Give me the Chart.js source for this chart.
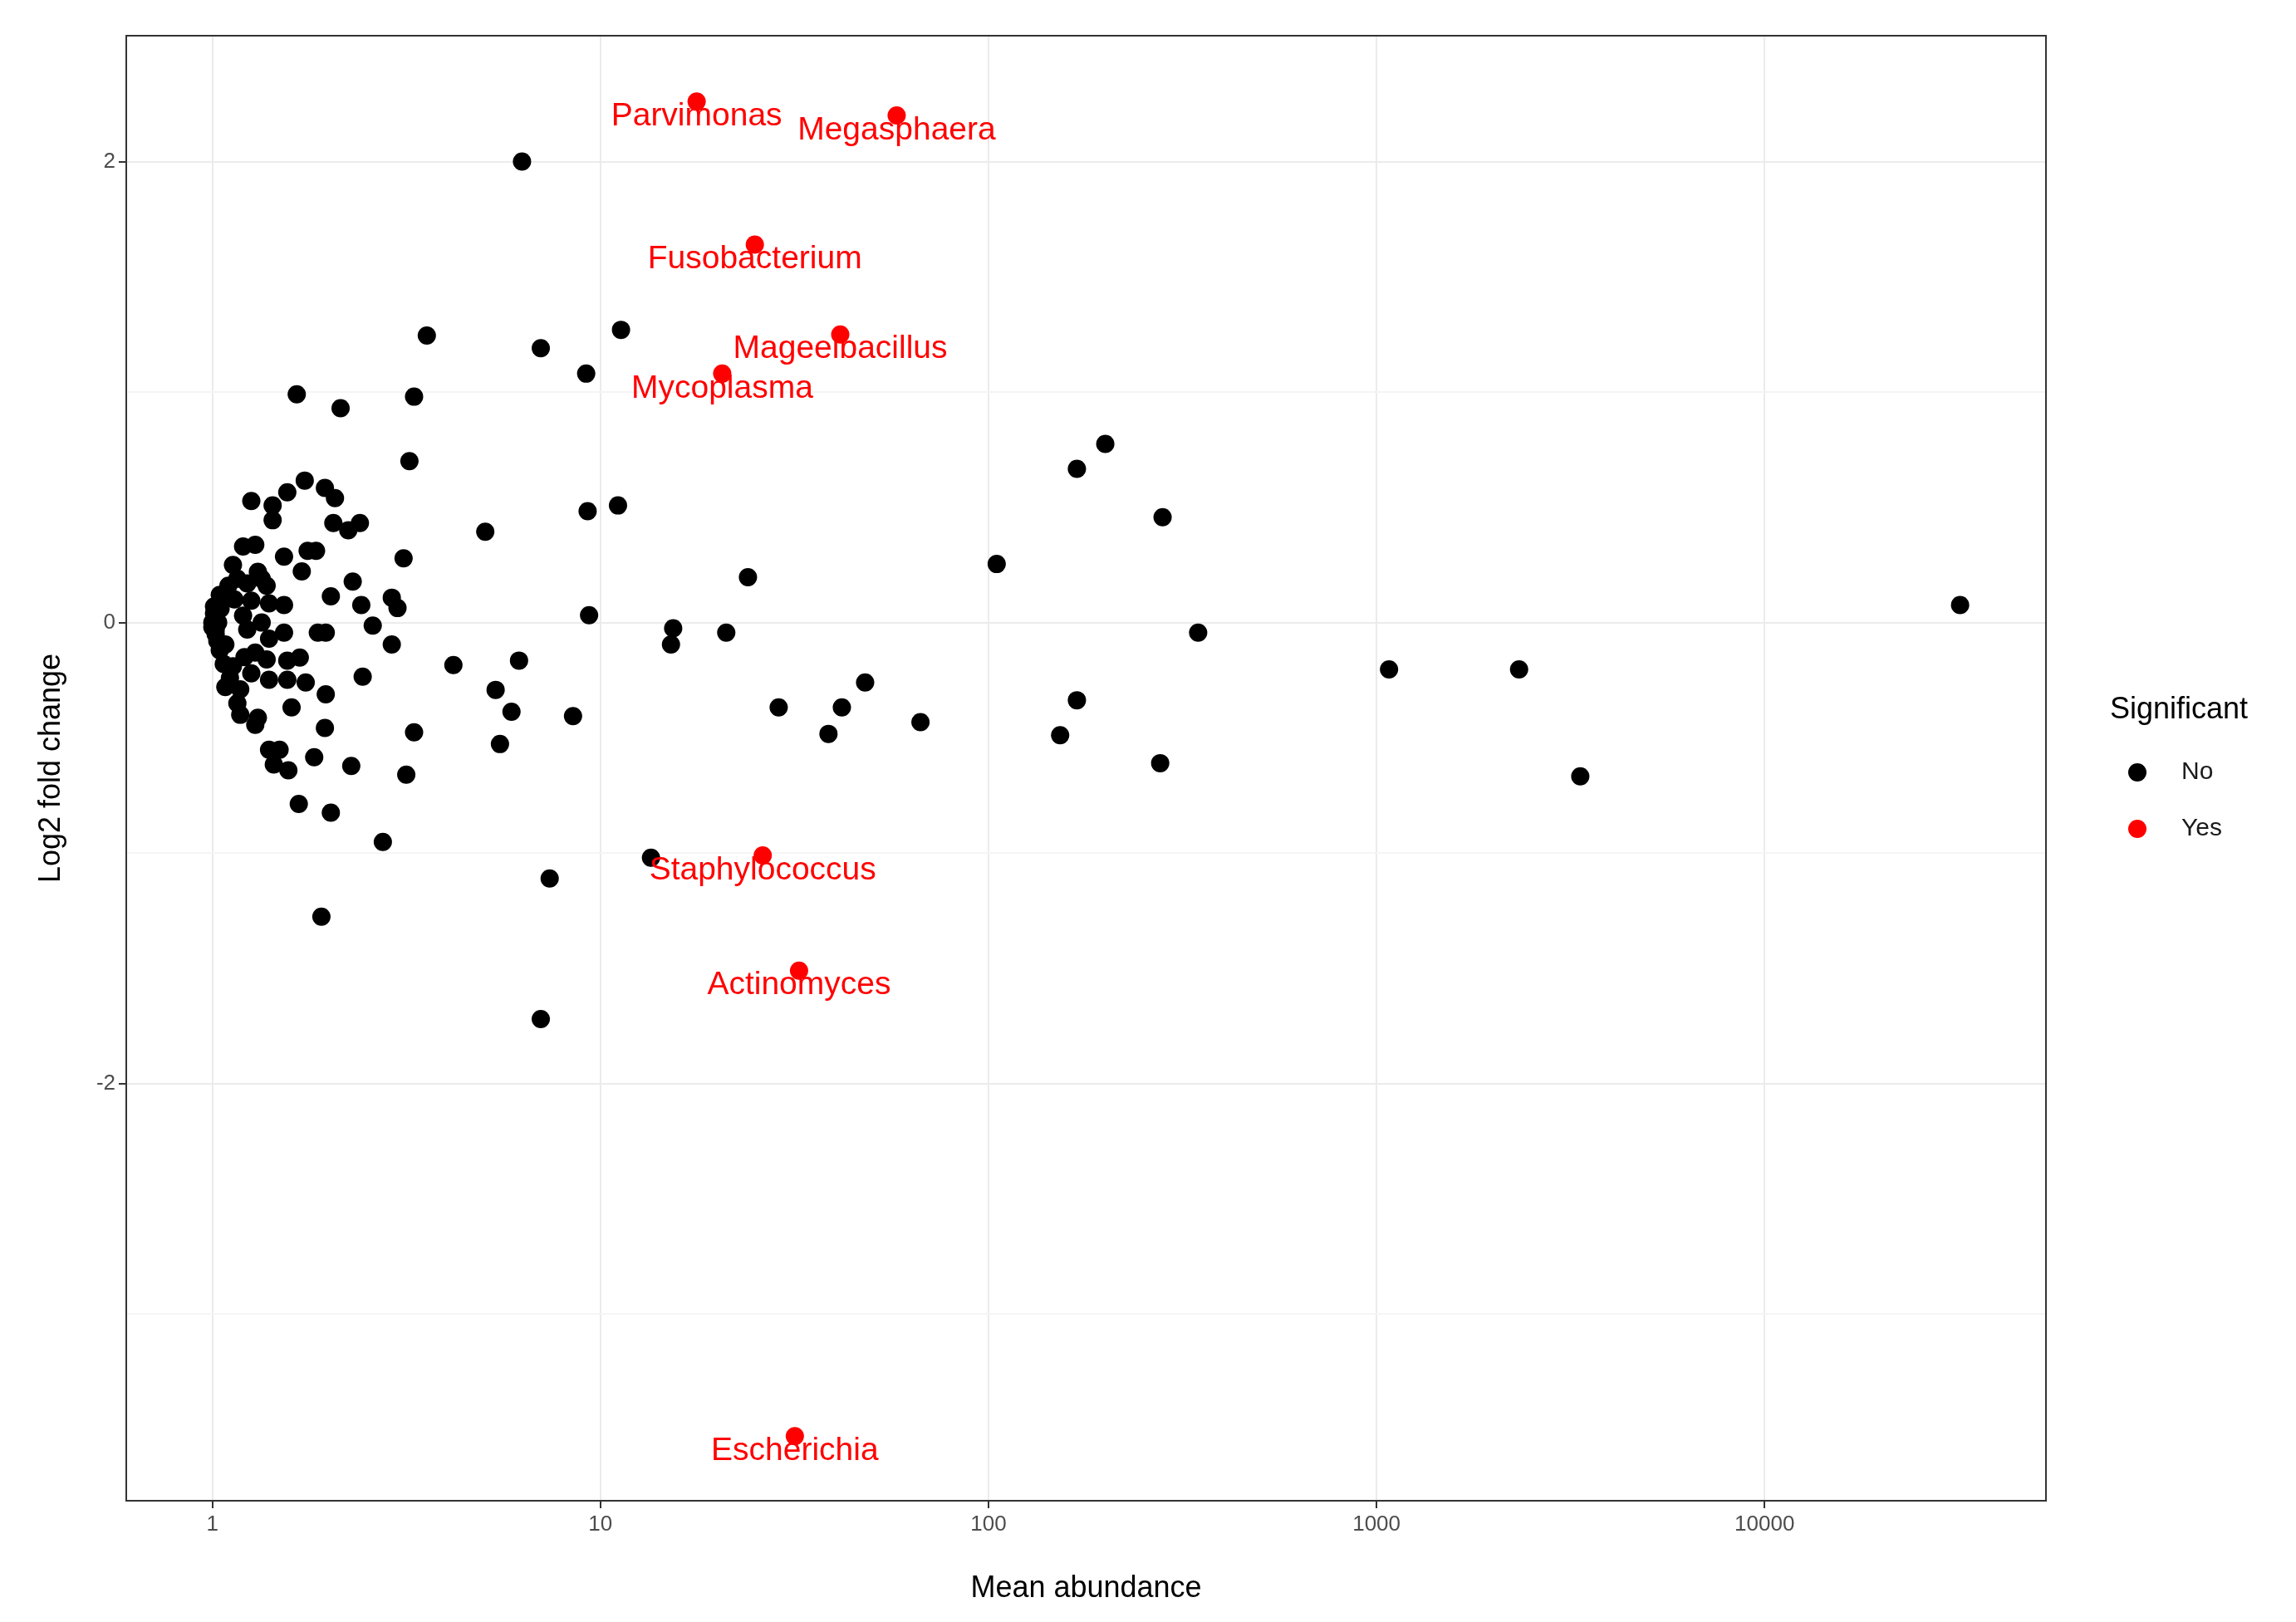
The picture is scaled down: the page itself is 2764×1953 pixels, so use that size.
<!DOCTYPE html>
<html><head><meta charset="utf-8">
<script src="https://cdn.jsdelivr.net/npm/chart.js@4"></script>
<style>html,body{margin:0;padding:0;background:#fff}</style>
</head><body>
<canvas id="c" width="2764" height="1953" style="width:2764px;height:1953px"></canvas>
<script>
const sigNames = ["Parvimonas","Megasphaera","Fusobacterium","Mageeibacillus","Mycoplasma","Staphylococcus","Actinomyces","Escherichia"];
const sigAbundance = [17.7,58,25,41.5,20.6,26.2,32.5,31.7];
const sigLfc = [2.26,2.20,1.64,1.25,1.08,-1.01,-1.51,-3.53];
const nsAbundance = [6.28,3.57,7.02,11.3,9.19,1.65,2.14,3.31,3.22,200,169,281,105,31900,347,1077,2330,3350,277,169,153,66.8,48.1,41.9,38.7,28.8,24,21.1,15.4,15.2,11.1,9.27,9.35,13.5,7.4,7.02,8.5,5.9,5.51,5.37,6.17,4.18,5.05,3.31,3.16,2.75,1.91,2.02,1.67,2.28,1.83,2.44,2.9,3.0,3.11,2.9,2.59,2.42,2.3,2.24,2.4,2.05,2.07,1.95,1.73,1.56,1.43,1.43,1.26,2.02,1.96,1.87,1.96,1.95,1.74,1.6,1.56,1.68,1.56,1.53,1.53,1.7,1.76,1.85,1.53,1.34,1.4,1.4,1.4,1.57,1.44,1.49,1.4,1.29,1.31,1.18,1.29,1.2,1.0,1.01,1.02,1.035,1.06,1.08,1.1,1.13,1.16,1.18,1.2,1.23,1.26,1.29,1.31,1.34,1.21,1.13,1.08,1.045,1.045,1.02,1.16,1.23,1.26,1.38,1.38,1.0,1.01,1.03,1.05,1.07,1.11,1.14];
const nsLfc = [2.0,1.245,1.19,1.27,1.08,0.99,0.93,0.98,0.70,0.775,0.667,0.457,0.254,0.076,-0.044,-0.203,-0.203,-0.667,-0.61,-0.337,-0.489,-0.432,-0.26,-0.368,-0.483,-0.368,0.197,-0.044,-0.025,-0.095,0.508,0.483,0.032,-1.02,-1.11,-1.72,-0.406,-0.387,-0.527,-0.292,-0.165,-0.184,0.394,-0.476,-0.66,-0.952,-1.276,-0.825,-0.787,-0.622,-0.584,-0.235,-0.095,0.063,0.279,0.108,-0.013,0.076,0.178,0.4,0.432,0.432,0.54,0.584,0.616,0.565,0.508,0.444,0.527,0.114,-0.044,-0.044,-0.311,-0.457,-0.26,-0.368,-0.248,-0.152,-0.165,-0.044,0.076,0.222,0.311,0.311,0.286,0.19,0.083,-0.07,-0.248,-0.641,-0.616,-0.552,-0.552,-0.444,-0.413,-0.4,0.337,0.33,0,0.04,-0.05,0.0,0.095,-0.095,0.16,-0.19,0.19,-0.29,0.03,-0.03,0.095,-0.13,0.22,0,-0.15,0.25,-0.28,-0.12,0.12,-0.03,-0.35,0.17,-0.22,0.16,-0.16,-0.02,0.07,-0.08,0.06,-0.18,-0.24,0.1];
const xTicks = [1,10,100,1000,10000];
const yTicksLabelled = [-2,0,2];
const legendTitle = "Significant";
const legendLabels = ["No","Yes"];

const ns = nsAbundance.map((x,i)=>({x, y:nsLfc[i]}));
const sg = sigAbundance.map((x,i)=>({x, y:sigLfc[i], name:sigNames[i]}));
const FONT='"Liberation Sans", Arial, sans-serif';

const extras = {
  id:'extras',
  afterDatasetsDraw(ch){
    const c=ch.ctx, xs=ch.scales.x, ys=ch.scales.y;
    c.save();
    c.fillStyle='#ff0000'; c.font='39px '+FONT;
    c.textAlign='center'; c.textBaseline='middle';
    sg.forEach(p=>{ c.fillText(p.name, xs.getPixelForValue(p.x), ys.getPixelForValue(p.y)+18); });
    c.strokeStyle='#333'; c.lineWidth=2;
    const a=ch.chartArea; c.strokeRect(a.left,a.top,a.right-a.left,a.bottom-a.top);
    c.fillStyle='#000'; c.textAlign='left'; c.font='36px '+FONT;
    c.fillText(legendTitle, 2540, 855);
    const cols=['#000','#ff0000'];
    legendLabels.forEach((t,i)=>{
      const y=930+i*68;
      c.fillStyle=cols[i]; c.beginPath(); c.arc(2573,y,11,0,Math.PI*2); c.fill();
      c.fillStyle='#1a1a1a'; c.font='30px '+FONT;
      c.fillText(t, 2626, y);
    });
    c.restore();
  }
};

new Chart(document.getElementById('c'),{
  type:'scatter',
  data:{datasets:[
    {data:ns, backgroundColor:'#000', borderColor:'#000', pointRadius:11, pointHoverRadius:11, borderWidth:0},
    {data:sg, backgroundColor:'#ff0000', borderColor:'#ff0000', pointRadius:11, pointHoverRadius:11, borderWidth:0}
  ]},
  options:{
    responsive:false, animation:false, devicePixelRatio:1,
    layout:{padding:{top:43,right:301,bottom:14,left:0}},
    plugins:{legend:{display:false},tooltip:{enabled:false}},
    scales:{
      x:{type:'logarithmic', min:0.62, max:53100,
        afterBuildTicks(ax){ ax.ticks = xTicks.map(v=>({value:v})); },
        afterFit(ax){ ax.height=132; },
        ticks:{callback:v=>String(v), color:'#4d4d4d', font:{size:26,family:FONT}, padding:4, maxRotation:0, autoSkip:false},
        grid:{color:'#ebebeb', lineWidth:2, tickLength:9, tickColor:'#333', drawOnChartArea:true},
        border:{display:false},
        title:{display:true, text:'Mean abundance', color:'#000', font:{size:36,family:FONT}, padding:{top:4}}
      },
      y:{min:-3.81, max:2.546,
        afterBuildTicks(ax){ ax.ticks=[-3,-2,-1,0,1,2].map(v=>({value:v})); },
        afterFit(ax){ ax.width=152; },
        ticks:{callback:v=>yTicksLabelled.includes(v)?String(v):'', color:'#4d4d4d', font:{size:26,family:FONT}, padding:4},
        grid:{color:ctx=>Math.abs(ctx.tick.value)%2===1?'#f5f5f5':'#ebebeb', lineWidth:2, tickLength:9,
              tickColor:ctx=>Math.abs(ctx.tick.value)%2===1?'rgba(0,0,0,0)':'#333'},
        border:{display:false},
        title:{display:true, text:'Log2 fold change', color:'#000', font:{size:36,family:FONT}, padding:{top:40,bottom:16}}
      }
    }
  },
  plugins:[extras]
});
</script>
</body></html>
